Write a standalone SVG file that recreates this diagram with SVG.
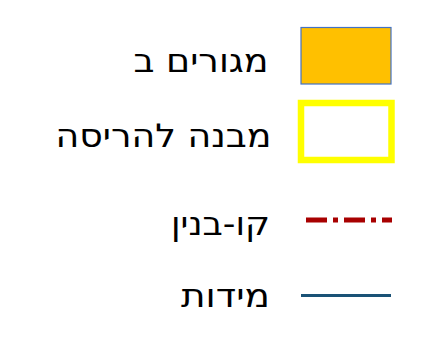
<svg xmlns="http://www.w3.org/2000/svg" width="448" height="349" viewBox="0 0 448 349">
<style>
.lbl{font-family:"DejaVu Sans",sans-serif;font-size:32px;fill:#000;text-anchor:end}
</style>
<rect width="448" height="349" fill="#fff"/>
<g id="legend-residential">
<rect x="301" y="27.5" width="90" height="56.5" fill="#ffc000" stroke="#4472c4" stroke-width="1.2"/>
<text class="lbl" x="268.5" y="72" textLength="135" lengthAdjust="spacingAndGlyphs">מגורים ב</text>
</g>
<g id="legend-demolish">
<rect x="301" y="103" width="90.5" height="57" fill="none" stroke="#ffff00" stroke-width="6.5"/>
<text class="lbl" x="271.5" y="146.5" textLength="216" lengthAdjust="spacingAndGlyphs">מבנה להריסה</text>
</g>
<g id="connectors">
<g id="legend-buildline">
<line x1="306" y1="220" x2="392" y2="220" stroke="#a80000" stroke-width="5" stroke-dasharray="21 6 5 6"/>
</g>
<g id="legend-dimensions">
<line x1="301" y1="295.5" x2="391" y2="295.5" stroke="#1a5276" stroke-width="3"/>
</g>
</g>
<g id="labels">
<text class="lbl" x="270" y="235" textLength="99" lengthAdjust="spacingAndGlyphs">קו-בנין</text>
<text class="lbl" x="270" y="307" textLength="89" lengthAdjust="spacingAndGlyphs">מידות</text>
</g>
</svg>
